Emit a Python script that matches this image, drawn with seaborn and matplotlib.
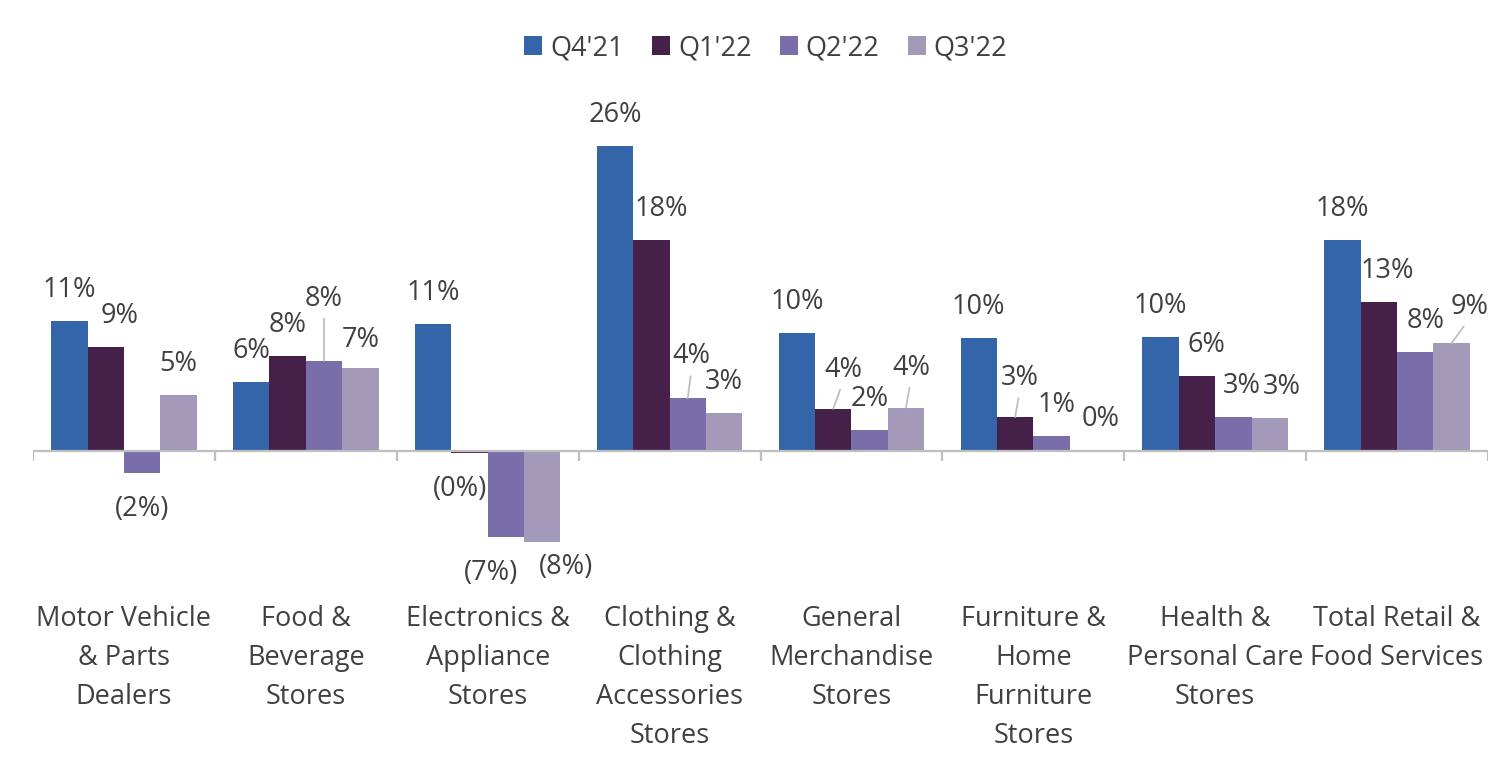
import matplotlib
matplotlib.use("Agg")
import matplotlib.pyplot as plt
from matplotlib.patches import Patch
import seaborn as sns
import pandas as pd
import numpy as np

# ---------------- data ----------------
categories = [
    "Motor Vehicle\n& Parts\nDealers",
    "Food &\nBeverage\nStores",
    "Electronics &\nAppliance\nStores",
    "Clothing &\nClothing\nAccessories\nStores",
    "General\nMerchandise\nStores",
    "Furniture &\nHome\nFurniture\nStores",
    "Health &\nPersonal Care\nStores",
    "Total Retail &\nFood Services",
]
series = ["Q4'21", "Q1'22", "Q2'22", "Q3'22"]
q4_21 = [11.1, 5.9, 10.8, 26.0, 10.1, 9.6, 9.7, 18.0]
q1_22 = [8.9, 8.1, -0.2, 18.0, 3.6, 2.9, 6.4, 12.7]
q2_22 = [-1.9, 7.7, -7.3, 4.5, 1.8, 1.3, 2.9, 8.4]
q3_22 = [4.8, 7.1, -7.8, 3.2, 3.7, 0.1, 2.8, 9.2]
values = [q4_21, q1_22, q2_22, q3_22]

colors = ["#3465A8", "#45214A", "#7A6EAA", "#A399B8"]
TEXT = "#404040"
GRID = "#BFBFBF"
FS = 19.5

# label nudges (pixels): (series, category) -> (dx, extra_dy, leader)
nudges = {
    (1, 0): (14, 0, False),
    (2, 1): (0, 31, True),
    (3, 1): (0, -3, False),
    (1, 2): (-10, 0, False),
    (2, 2): (-15, 0, False),
    (3, 2): (24, 11, False),
    (1, 3): (10, 0, False),
    (2, 3): (4, 11, True),
    (1, 4): (10, 8, True),
    (3, 4): (5, 9, True),
    (1, 5): (5, 8, True),
    (2, 5): (5, 0, False),
    (3, 5): (13, 0, False),
    (1, 6): (9, 0, False),
    (2, 6): (8, 0, False),
    (3, 6): (12, 0, False),
    (1, 7): (8, 0, False),
    (2, 7): (10, 0, False),
    (3, 7): (18, 5, True),
}

rows = []
for s, vals in zip(series, values):
    for c, v in zip(categories, vals):
        rows.append({"category": c, "series": s, "value": v})
df = pd.DataFrame(rows)

sns.set_theme(style="white")
plt.rcParams["font.family"] = ["Open Sans", "DejaVu Sans"]

W, H = 1503, 769
fig = plt.figure(figsize=(W / 100, H / 100), dpi=100)
ax_top, ax_bot, zero_px, px_per = 100, 590, 451, 11.73
ax = fig.add_axes([33 / W, (H - ax_bot) / H, 1455 / W, (ax_bot - ax_top) / H])

sns.barplot(data=df, x="category", y="value", hue="series", order=categories,
            hue_order=series, palette=colors, saturation=1, width=0.8,
            linewidth=0, errorbar=None, legend=False, ax=ax)

ax.set_xlim(-0.5, len(categories) - 0.5)
ax.set_ylim(-(ax_bot - zero_px) / px_per, (zero_px - ax_top) / px_per)
for sp in ax.spines.values():
    sp.set_visible(False)
ax.set_yticks([])
ax.set_xlabel("")
ax.set_ylabel("")

ax.axhline(0, color=GRID, lw=1.6, zorder=3)
ax.vlines(np.arange(len(categories) + 1) - 0.5, -10 / px_per, 0, color=GRID, lw=1.6, zorder=3)

ax.set_xticks(range(len(categories)))
ax.set_xticklabels(categories, fontsize=FS, color=TEXT, linespacing=1.52)
ax.tick_params(axis="x", length=0, pad=11)


def fmt(v):
    r = int(round(abs(v)))
    return f"({r}%)" if v < 0 else f"{r}%"


PT = 0.72
for j, cont in enumerate(ax.containers):
    for i, bar in enumerate(cont):
        v = values[j][i]
        x = bar.get_x() + bar.get_width() / 2
        dx, ddy, leader = nudges.get((j, i), (0, 0, False))
        if v >= 0:
            dy = 31 + ddy
        else:
            dy = -36 + ddy
        kw = {}
        if leader:
            kw["arrowprops"] = dict(arrowstyle="-", color=GRID, lw=1.3,
                                    shrinkA=2, shrinkB=0, relpos=(0.5, 0.1))
        ax.annotate(fmt(v), xy=(x, v), xytext=(dx * PT, dy * PT),
                    textcoords="offset points", ha="center", va="center",
                    fontsize=FS, color=TEXT, **kw)

handles = [Patch(facecolor=c, edgecolor="none", label=s) for c, s in zip(colors, series)]
fig.legend(handles=handles, loc="center", bbox_to_anchor=(766 / W, 1 - 48 / H),
           ncol=4, frameon=False, fontsize=FS, handlelength=0.65, handleheight=0.65,
           handletextpad=0.3, columnspacing=1.05, labelcolor=TEXT)

fig.savefig("out.png", dpi=100)
